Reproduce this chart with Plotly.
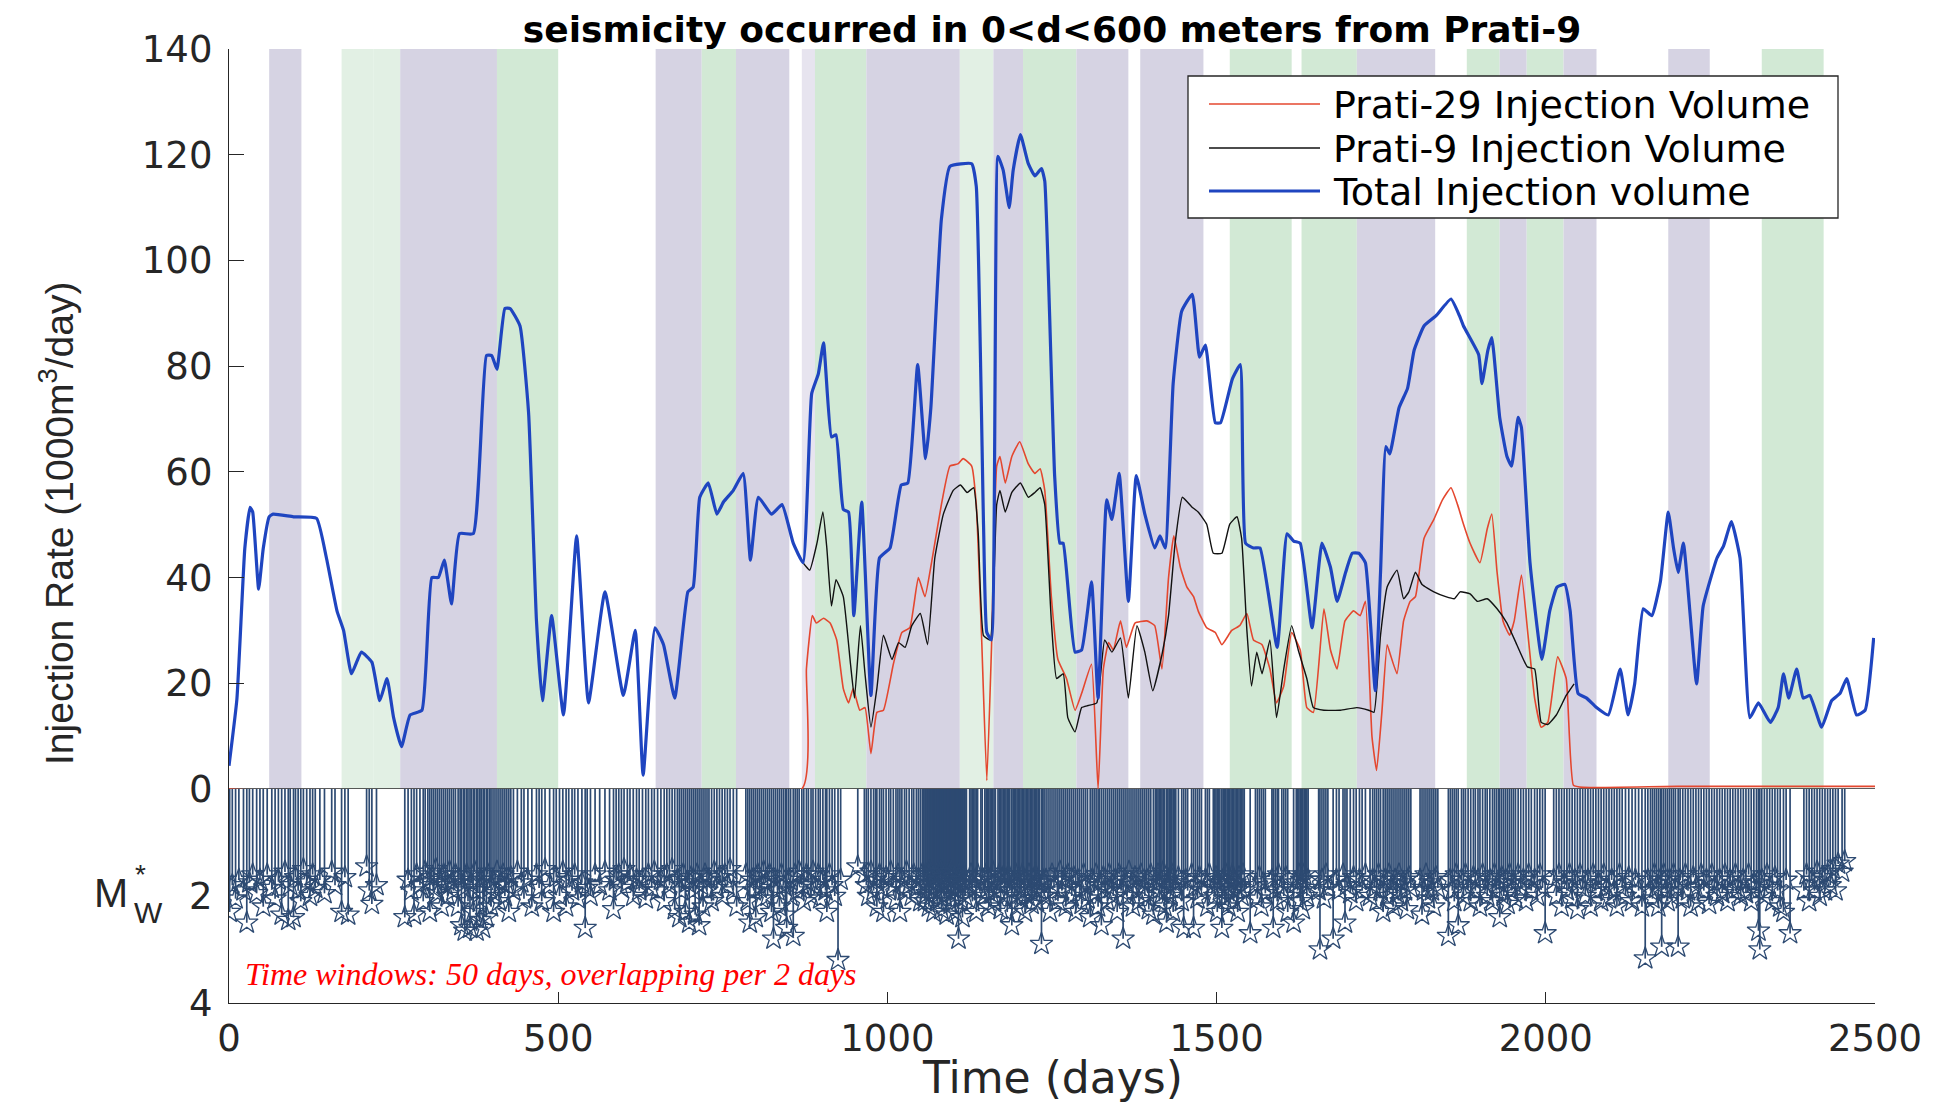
import plotly.graph_objects as go

# ---------------- Injection volume series (day, 1000 m3/day) ----------------
total_pts = [
    (0, 4.4), (12, 17), (24, 45.5), (32, 53.3), (36, 52.4), (45, 37.8), (52, 45.5), (61, 51.5),
    (67, 52), (98, 51.5), (133, 51.2), (148, 43.7), (164, 33.7), (174, 30), (186, 21.8),
    (201, 25.9), (217, 24), (229, 16.7), (240, 20.9), (250, 13.5), (262, 8), (275, 14),
    (293, 14.9), (308, 40), (318, 40), (327, 43.3), (338, 35), (350, 48.3), (371, 48.3),
    (391, 82), (399, 82), (407, 79.4), (419, 90.9), (427, 90.9), (442, 87.6), (455, 71.2),
    (467, 31.8), (476, 16.7), (490, 32.8), (508, 14), (528, 47.9), (546, 16.3), (571, 37.3),
    (599, 17.7), (617, 30), (629, 2.6), (647, 30.5), (660, 27.3), (677, 17.2), (697, 37.3),
    (705, 38.2), (715, 55.2), (728, 57.9), (741, 52), (751, 54.3), (766, 56.5), (781, 59.7),
    (792, 43.3), (804, 55.2), (824, 52), (840, 53.8), (857, 46.5), (872, 42.8), (885, 74.8),
    (895, 78.5), (903, 84.4), (915, 66.6), (922, 67), (933, 52.9), (941, 52.4), (949, 32.8),
    (961, 54.3), (975, 17.7), (988, 43.7), (1004, 45.6), (1021, 57.5), (1031, 57.9),
    (1046, 80.3), (1058, 62.5), (1066, 72.1), (1082, 107.8), (1095, 117.8), (1128, 118.3),
    (1135, 114), (1146, 50), (1151, 29.6), (1158, 28.2), (1168, 119.7), (1176, 117),
    (1185, 110), (1191, 117), (1202, 123.8), (1214, 118.3), (1224, 116), (1234, 117.4),
    (1239, 115), (1254, 59.3), (1262, 46.5), (1267, 46.5), (1285, 25.9), (1295, 26.3),
    (1310, 39.2), (1320, 17.2), (1333, 54.7), (1341, 51), (1352, 59.7), (1366, 35.5),
    (1378, 59.3), (1391, 52), (1406, 45.6), (1414, 47.9), (1422, 45.6), (1434, 76.7),
    (1447, 90.4), (1463, 93.6), (1474, 81.7), (1483, 84), (1498, 69.3), (1506, 69.3),
    (1524, 77.6), (1536, 80.3), (1544, 46.5), (1556, 45.6), (1566, 45.6), (1592, 26.8),
    (1607, 48.3), (1617, 46.9), (1627, 46.5), (1645, 30.5), (1660, 46.5), (1673, 41.9),
    (1683, 35.5), (1696, 41), (1706, 44.6), (1716, 44.6), (1726, 42.8), (1741, 18.6),
    (1749, 41), (1757, 64.8), (1763, 63.4), (1777, 72.1), (1790, 75.8), (1800, 83),
    (1815, 87.6), (1833, 89.5), (1856, 92.7), (1869, 89.5), (1875, 87.6), (1898, 82.2),
    (1903, 76.7), (1912, 83), (1918, 85.4), (1930, 70.3), (1941, 62.9), (1948, 61.1),
    (1958, 70.3), (1963, 68.4), (1976, 42.8), (1994, 24.5), (2006, 33.7), (2017, 38.2),
    (2029, 38.7), (2037, 33.7), (2049, 18.1), (2062, 17.2), (2077, 15.4), (2095, 14),
    (2113, 22.7), (2125, 14), (2135, 19.9), (2148, 34.1), (2161, 32.8), (2174, 39.2),
    (2186, 52.4), (2194, 45.6), (2201, 41), (2209, 46.5), (2229, 19.9), (2239, 34.6),
    (2260, 43.7), (2270, 46), (2282, 50.6), (2295, 43.7), (2310, 13.5), (2323, 16.3),
    (2341, 12.6), (2353, 15.4), (2361, 21.8), (2369, 17.2), (2381, 22.7), (2391, 17.2),
    (2401, 17.7), (2419, 11.7), (2434, 16.7), (2447, 18.1), (2457, 20.9), (2472, 14),
    (2485, 14.9), (2498, 28.6),
]

prati29_pts = [
    (0, 0), (870, 0), (877, 22.7), (886, 32.8), (892, 31.4), (903, 32.3), (913, 31.4),
    (923, 28.2), (933, 19), (941, 16.3), (948, 19), (958, 14.9), (966, 15.4), (975, 6.7),
    (984, 14.5), (994, 14.9), (1009, 23.6), (1022, 29.6), (1034, 30.5), (1047, 40),
    (1057, 36.4), (1067, 42.8), (1082, 53.8), (1095, 61.1), (1107, 61.5), (1115, 62.5),
    (1128, 61.1), (1135, 53.8), (1143, 29), (1151, 1.6), (1158, 26.3), (1166, 61.1),
    (1171, 62.9), (1179, 57.9), (1189, 62.9), (1201, 65.7), (1214, 61.5), (1224, 59.7),
    (1232, 60.6), (1239, 56.5), (1249, 36.4), (1259, 24.5), (1272, 20.9), (1285, 14.9),
    (1295, 18.1), (1310, 23.6), (1320, 0), (1328, 22.7), (1336, 27.7), (1343, 26.3),
    (1354, 31.8), (1363, 26.8), (1376, 31.4), (1394, 31.8), (1406, 30.9), (1417, 22.7),
    (1427, 40), (1435, 47.9), (1445, 41.9), (1455, 38.2), (1465, 36.4), (1472, 33.7),
    (1485, 30.5), (1498, 29.6), (1508, 27.3), (1523, 30), (1535, 30.9), (1546, 33.2),
    (1556, 28.2), (1569, 27.3), (1581, 22.7), (1591, 16.3), (1602, 19.5), (1614, 29.6),
    (1627, 26.3), (1637, 15.4), (1647, 14.5), (1663, 34.1), (1673, 26.3), (1683, 22.7),
    (1695, 31.8), (1708, 33.7), (1718, 32.8), (1726, 35.5), (1736, 9.9), (1743, 3.5),
    (1751, 14.5), (1759, 27.3), (1764, 25.4), (1774, 21.8), (1784, 31.8), (1794, 35.5),
    (1802, 36.4), (1815, 47.4), (1830, 51), (1843, 54.7), (1856, 57), (1866, 53.8),
    (1875, 50.1), (1885, 46.5), (1900, 42.8), (1911, 49.2), (1918, 52), (1926, 41),
    (1935, 31.8), (1945, 29.1), (1952, 31.8), (1963, 40.5), (1973, 29.1), (1983, 17.2),
    (1993, 11.7), (2003, 12.6), (2018, 25), (2031, 20.9), (2042, 0.7), (2057, 0.3),
    (2200, 0.5), (2500, 0.5),
]

prati9_pts = [
    (857, 46.5), (872, 42.8), (882, 41.4), (893, 46.5), (902, 52.4), (908, 45.6), (915, 34.6),
    (922, 39.6), (933, 36.4), (944, 23.6), (950, 17.2), (959, 30.9), (966, 21.8), (975, 11.7),
    (984, 19), (994, 29.1), (1007, 24.5), (1017, 27.7), (1027, 26.8), (1037, 30.9),
    (1050, 33.2), (1061, 27.3), (1072, 43.7), (1085, 52), (1100, 56.5), (1111, 57.5),
    (1121, 56.1), (1131, 57), (1138, 48.3), (1146, 29), (1156, 28.2), (1166, 53.8),
    (1171, 56.5), (1179, 52.4), (1189, 56.1), (1202, 57.9), (1214, 55.2), (1224, 56.1),
    (1232, 57), (1239, 53.8), (1249, 31.8), (1257, 20.9), (1267, 21.8), (1274, 13.5),
    (1285, 10.8), (1295, 15.4), (1305, 15.8), (1318, 16.3), (1330, 28.2), (1341, 25.9),
    (1354, 28.6), (1366, 17.2), (1379, 30.9), (1391, 25.9), (1403, 18.6), (1417, 25.4),
    (1427, 32.8), (1437, 46.5), (1448, 55.2), (1462, 53.4), (1472, 52.4), (1485, 50.1),
    (1495, 44.6), (1508, 44.6), (1520, 50.1), (1531, 51.5), (1538, 47.4), (1546, 30),
    (1553, 19.5), (1561, 25.9), (1569, 21.8), (1581, 28.2), (1591, 13.5), (1602, 22.7),
    (1614, 30.9), (1624, 26.3), (1637, 20.9), (1647, 15.4), (1663, 14.9), (1688, 14.9),
    (1713, 15.4), (1731, 14.9), (1739, 14.5), (1749, 29.1), (1759, 38.2), (1774, 41.4),
    (1784, 36), (1792, 37.3), (1802, 41), (1812, 38.7), (1830, 37.3), (1848, 36.4),
    (1861, 36), (1870, 37.3), (1885, 36.9), (1896, 35.5), (1911, 36), (1926, 34.1),
    (1941, 31.4), (1956, 27.3), (1972, 23.1), (1983, 22.7), (1993, 12.6), (2003, 12.2),
    (2016, 14), (2031, 17.7), (2043, 19.9),
]

# ---------------- Seismic events (day, Mw*) ----------------
events_a = [
    (1, 2.3), (5, 1.8), (10, 2.05), (15, 1.7), (22, 1.9), (27, 2.5), (31, 1.75), (36, 1.6),
    (42, 1.95), (47, 1.7), (52, 2.2), (58, 1.6), (65, 1.85), (70, 2.05), (75, 1.7), (80, 2.35),
    (85, 1.55), (90, 2.45), (93, 1.8), (98, 2.4), (101, 1.65), (105, 1.9), (109, 2.1),
    (113, 1.5), (118, 1.75), (123, 2.0), (127, 1.6), (131, 1.85), (138, 1.7), (145, 1.95),
    (156, 1.55), (161, 1.8), (171, 2.3), (176, 1.65), (181, 2.35), (209, 1.45), (213, 1.9),
    (217, 2.15), (224, 1.8),
]
events_b = [
    (267, 2.4), (272, 1.7), (277, 1.9), (281, 2.35), (285, 1.6), (290, 1.8), (295, 2.1),
    (298, 1.55), (302, 1.75), (305, 2.3), (308, 1.65), (311, 1.85), (314, 1.5), (317, 1.95),
    (320, 1.7), (323, 2.2), (326, 1.6), (329, 1.8), (332, 2.0), (335, 1.55), (338, 1.75),
    (341, 1.9), (344, 1.6), (348, 2.2), (351, 1.7), (353, 2.55), (356, 1.85), (358, 2.65),
    (361, 1.6), (363, 2.1), (366, 2.6), (368, 1.75), (371, 2.3), (373, 1.55), (376, 2.65),
    (378, 1.9), (381, 2.45), (383, 1.7), (386, 2.6), (388, 2.0), (391, 2.4), (393, 1.6),
    (396, 1.85), (398, 2.2), (401, 1.7), (404, 1.95), (407, 1.55), (410, 2.1), (413, 1.75),
    (416, 1.6), (419, 2.0), (422, 1.8), (425, 2.3), (428, 1.65), (432, 1.9), (438, 1.55),
    (444, 1.75), (448, 2.05), (454, 1.7), (460, 2.2), (467, 1.6), (471, 1.85), (475, 2.1),
    (480, 1.5), (487, 1.8), (493, 2.3), (497, 1.65), (502, 2.0), (507, 1.55), (512, 2.2),
    (516, 1.7), (521, 1.9), (525, 1.6), (530, 2.05), (536, 1.75), (541, 2.6), (544, 1.85),
    (549, 2.0), (556, 1.6), (563, 1.8), (571, 1.55), (578, 1.9), (584, 2.25), (588, 1.7),
    (592, 1.6), (596, 1.85), (600, 1.5), (605, 1.75), (609, 1.6), (614, 2.0), (619, 1.7),
    (623, 1.9),
]
events_c = [
    (628, 1.7), (633, 2.05), (637, 1.6), (642, 1.85), (646, 1.55), (651, 1.9), (656, 1.7),
    (661, 2.1), (665, 1.6), (669, 1.8), (673, 1.5), (677, 2.25), (681, 1.7), (684, 2.4),
    (687, 1.9), (690, 1.6), (693, 2.3), (696, 1.75), (699, 2.5), (702, 1.65), (705, 1.9),
    (708, 2.35), (711, 1.6), (714, 2.55), (717, 1.8), (720, 2.2), (723, 1.6), (726, 1.9),
    (729, 1.7), (733, 2.1), (737, 1.55), (741, 1.85), (745, 1.65), (749, 2.0), (753, 1.6),
    (757, 1.8), (761, 1.5), (766, 1.9), (771, 2.2),
    (785, 1.6), (788, 2.1), (791, 2.5), (794, 1.7), (797, 1.9), (800, 2.4), (803, 1.6),
    (806, 1.85), (809, 2.05), (812, 1.55), (815, 1.75), (818, 2.0), (821, 1.6), (824, 2.3),
    (827, 2.8), (830, 1.7), (833, 1.9), (836, 2.2), (839, 1.6), (842, 1.8), (845, 2.35),
    (847, 2.6), (850, 1.7), (853, 2.0), (857, 2.75), (860, 1.6), (863, 1.9), (866, 1.55),
    (870, 1.8), (873, 2.1), (877, 1.6), (880, 1.75), (884, 2.0), (887, 1.55), (891, 1.85),
    (895, 1.6), (898, 2.05), (902, 1.7), (906, 1.9), (908, 2.3), (912, 1.6), (916, 1.8),
    (920, 2.0), (925, 3.2), (929, 1.7), (955, 1.45),
    (965, 1.6), (968, 1.8), (971, 2.0), (975, 1.55), (979, 1.9), (982, 1.7), (984, 2.2),
    (988, 1.6), (991, 1.85), (994, 2.3), (998, 1.65), (1002, 1.9), (1005, 1.55), (1009, 1.8),
    (1013, 2.05), (1016, 1.6), (1019, 2.3), (1022, 1.7), (1026, 1.9), (1029, 1.55),
    (1033, 1.8), (1037, 2.0), (1040, 1.6), (1044, 1.85), (1047, 1.7), (1050, 2.1), (1053, 1.6),
]
events_d = [
    (1055, 1.8), (1057, 2.1), (1058, 1.6), (1060, 1.95), (1061, 1.7), (1063, 2.2), (1064, 1.55),
    (1066, 1.85), (1067, 2.0), (1069, 1.65), (1070, 2.3), (1072, 1.75), (1073, 1.9), (1075, 1.6),
    (1076, 2.1), (1078, 1.7), (1079, 1.95), (1081, 1.55), (1082, 2.25), (1084, 1.8), (1085, 1.65),
    (1087, 2.0), (1088, 1.75), (1090, 2.35), (1091, 1.6), (1093, 1.9), (1094, 1.7), (1096, 2.15),
    (1097, 1.55), (1099, 1.85), (1100, 2.0), (1102, 1.65), (1103, 2.3), (1105, 1.75), (1106, 1.9),
    (1108, 2.8), (1109, 1.6), (1111, 2.05), (1112, 1.7), (1114, 2.4), (1115, 1.8), (1117, 1.6),
    (1118, 2.0), (1120, 1.75),
    (1125, 1.9), (1127, 1.6), (1129, 2.1), (1131, 1.7), (1133, 1.85), (1135, 2.3), (1137, 1.6),
    (1142, 1.9), (1144, 1.7), (1148, 2.0), (1150, 1.6), (1152, 1.85), (1154, 2.2), (1156, 1.7),
    (1158, 1.95), (1160, 1.55), (1162, 2.1), (1164, 1.75), (1168, 1.9), (1170, 1.6), (1172, 2.25),
    (1174, 1.8), (1176, 1.65), (1178, 2.0), (1180, 1.7), (1182, 2.3), (1184, 1.6), (1186, 1.9),
    (1189, 2.55), (1191, 1.75), (1193, 2.0), (1195, 1.6), (1197, 2.2), (1199, 1.7), (1201, 1.85),
    (1203, 2.05), (1205, 1.6), (1207, 1.9), (1209, 2.3), (1211, 1.7), (1213, 2.0), (1215, 1.6),
    (1217, 1.85), (1219, 2.15), (1221, 1.7), (1223, 1.95), (1225, 1.6), (1227, 2.1), (1229, 1.75),
    (1231, 1.9), (1234, 2.9), (1236, 1.7), (1238, 2.0),
]
events_e = [
    (1241, 1.7), (1244, 2.0), (1247, 2.3), (1250, 1.6), (1253, 1.85), (1256, 1.7), (1259, 2.1),
    (1262, 1.55), (1265, 1.9), (1268, 1.7), (1271, 2.2), (1274, 1.6), (1277, 1.85), (1280, 2.0),
    (1283, 1.65), (1286, 2.3), (1289, 1.7), (1292, 1.9), (1295, 2.15), (1298, 1.6), (1301, 1.8),
    (1304, 2.05), (1308, 2.4), (1311, 1.7), (1314, 1.95), (1317, 1.6), (1320, 2.2), (1322, 1.75),
    (1325, 2.55), (1328, 1.65), (1331, 1.9), (1334, 2.1), (1337, 1.6), (1340, 1.85), (1343, 2.0),
    (1346, 1.7), (1349, 2.3), (1352, 1.6), (1355, 1.9), (1358, 2.8), (1361, 1.7), (1364, 2.0),
    (1367, 1.55), (1370, 1.8), (1373, 2.2), (1376, 1.65), (1379, 1.9), (1382, 2.1), (1385, 1.6),
    (1388, 1.85), (1391, 2.0), (1394, 1.7), (1397, 2.25), (1400, 1.6), (1404, 2.35), (1407, 1.75),
    (1409, 1.9), (1411, 1.6), (1413, 2.1), (1415, 1.7), (1417, 1.95), (1419, 1.55), (1421, 2.2),
    (1424, 2.5), (1426, 1.7), (1428, 1.85), (1430, 2.0), (1432, 1.6), (1434, 2.3), (1436, 1.75),
    (1438, 1.9), (1442, 1.65), (1447, 2.1), (1450, 2.6), (1453, 1.7), (1456, 1.9), (1462, 1.6),
    (1465, 2.6), (1468, 1.8), (1471, 2.05), (1474, 1.65), (1477, 1.9), (1483, 1.7), (1486, 2.2),
    (1489, 1.6), (1495, 1.85), (1497, 2.0), (1499, 1.65), (1501, 2.3), (1503, 1.75), (1505, 1.9),
    (1508, 2.6), (1510, 1.7), (1512, 2.05), (1514, 1.6), (1516, 1.85), (1518, 2.2), (1520, 1.7),
    (1522, 1.95), (1524, 1.6), (1526, 2.1), (1528, 1.75), (1530, 1.9), (1532, 2.3), (1534, 1.65),
    (1536, 1.85), (1538, 2.0), (1540, 1.6), (1542, 1.9),
]
events_f = [
    (1551, 2.7), (1559, 1.8), (1562, 2.05), (1565, 1.65), (1568, 2.2), (1571, 1.75), (1574, 1.95),
    (1584, 1.7), (1586, 2.6), (1589, 1.9), (1592, 2.1), (1594, 1.6), (1599, 1.85), (1602, 2.0),
    (1605, 1.65), (1608, 2.3), (1617, 2.5), (1621, 1.75), (1623, 1.9), (1625, 1.6), (1627, 2.1),
    (1629, 1.7), (1631, 2.25), (1633, 1.6), (1635, 1.85), (1637, 2.0), (1639, 1.7), (1655, 1.9),
    (1657, 3.0), (1660, 1.7), (1663, 2.05), (1666, 1.6), (1669, 1.85), (1677, 2.8), (1682, 1.7),
    (1686, 1.9), (1692, 1.6), (1695, 2.5), (1698, 1.8), (1703, 1.95), (1708, 1.65), (1712, 2.1),
    (1717, 1.7), (1721, 1.9), (1726, 1.6), (1733, 2.0), (1737, 1.7), (1740, 1.85), (1743, 2.1),
    (1746, 1.6), (1749, 1.9), (1753, 2.3), (1756, 1.7), (1759, 2.0), (1762, 1.6), (1765, 1.85),
    (1768, 2.2), (1771, 1.7), (1774, 1.95), (1777, 1.6), (1780, 2.1), (1783, 1.75), (1786, 1.9),
    (1789, 2.25), (1792, 1.65), (1795, 1.85), (1809, 1.7), (1812, 2.35), (1815, 1.9), (1818, 1.6),
    (1821, 2.05), (1824, 1.75), (1827, 1.9), (1830, 2.2), (1833, 1.65), (1836, 1.85), (1852, 2.75),
    (1855, 1.7), (1858, 1.9), (1861, 2.1), (1864, 1.6), (1867, 2.55),
]
events_g = [
    (1872, 1.7), (1875, 2.0), (1878, 1.6), (1882, 1.85), (1886, 2.1), (1890, 1.65), (1893, 1.9),
    (1897, 1.7), (1900, 2.2), (1904, 1.6), (1908, 1.85), (1911, 2.0), (1915, 1.7), (1919, 2.1),
    (1922, 1.6), (1925, 1.9), (1928, 1.75), (1930, 2.4), (1933, 1.65), (1936, 2.0), (1939, 1.7),
    (1942, 2.15), (1945, 1.6), (1948, 1.9), (1951, 1.75), (1954, 2.05), (1958, 1.6), (1962, 1.85),
    (1966, 1.7), (1970, 2.1), (1974, 1.6), (1978, 1.9), (1983, 1.7), (1987, 2.0), (1991, 1.6),
    (1995, 1.85), (1999, 2.7), (2012, 1.7), (2016, 2.0), (2020, 1.6), (2024, 2.2), (2028, 1.75),
    (2032, 1.9), (2036, 1.6), (2040, 2.05), (2044, 1.7), (2048, 2.25), (2052, 1.6), (2056, 1.85),
    (2060, 2.0), (2064, 1.7), (2068, 2.2), (2072, 1.6), (2076, 1.9), (2080, 1.75), (2084, 2.1),
    (2088, 1.6), (2092, 1.85), (2096, 2.05), (2100, 1.7), (2104, 1.9), (2108, 2.2), (2112, 1.6),
    (2116, 1.85), (2121, 2.0), (2126, 1.65), (2131, 2.1), (2136, 1.7), (2141, 1.9), (2146, 2.2),
    (2151, 3.17), (2155, 1.7), (2159, 1.9), (2162, 2.05), (2165, 1.6), (2168, 1.85), (2171, 2.2),
    (2174, 1.7), (2176, 2.95), (2179, 1.6), (2182, 1.9), (2185, 2.1), (2188, 1.7), (2191, 2.0),
    (2194, 1.6), (2197, 1.85), (2201, 2.95), (2204, 1.7), (2208, 2.05), (2212, 1.6), (2216, 1.9),
    (2220, 2.2), (2224, 1.65), (2228, 1.85), (2232, 2.1), (2236, 1.6), (2240, 1.9), (2244, 1.7),
    (2248, 2.15), (2252, 1.6), (2256, 1.85), (2260, 2.0), (2264, 1.7), (2268, 1.95), (2272, 1.6),
    (2276, 2.1), (2280, 1.7), (2284, 1.9), (2288, 1.6), (2292, 1.85), (2296, 2.0), (2300, 1.7),
    (2304, 1.95), (2308, 1.6), (2312, 2.1), (2316, 1.75), (2320, 1.9), (2323, 2.65), (2325, 3.0),
    (2328, 1.7), (2332, 2.0), (2336, 1.6), (2340, 1.85), (2344, 2.1), (2348, 1.65), (2352, 1.9),
    (2356, 2.2), (2361, 2.3), (2365, 1.7), (2371, 2.7), (2392, 1.9), (2396, 1.6), (2400, 2.1),
    (2404, 1.7), (2408, 1.9), (2412, 1.55), (2416, 2.0), (2420, 1.65), (2424, 1.9), (2428, 1.6),
    (2432, 1.8), (2436, 1.5), (2440, 1.9), (2444, 1.4), (2450, 1.55), (2454, 1.35),
]

# ---------------- Shaded time windows (start day, end day, kind) ----------------
band_windows = [
    (61, 110, "purple"), (171, 219, "lightgreen"), (219, 260, "lightgreen"), (260, 407, "purple"),
    (407, 500, "green"), (648, 718, "purple"), (718, 770, "green"), (770, 851, "purple"),
    (870, 890, "lightpurple"), (890, 968, "green"), (968, 1110, "purple"),
    (1110, 1161, "lightgreen"), (1161, 1206, "purple"), (1206, 1287, "green"),
    (1287, 1366, "purple"), (1384, 1480, "purple"), (1520, 1614, "green"), (1629, 1713, "green"),
    (1713, 1832, "purple"), (1880, 1930, "green"), (1930, 1971, "purple"), (1971, 2027, "green"),
    (2027, 2077, "purple"), (2186, 2249, "purple"), (2328, 2422, "green"),
]
band_colors = {"purple": "#d6d3e3", "green": "#d2e9d5", "lightgreen": "#e2f0e4",
               "lightpurple": "#e7e4ef"}

x_ticks = [0, 500, 1000, 1500, 2000, 2500]
rate_ticks = [0, 20, 40, 60, 80, 100, 120, 140]
mw_ticks = [2, 4]

legend_names = ["Prati-29 Injection Volume", "Prati-9 Injection Volume", "Total Injection volume"]
line_colors = ["#e4472f", "#111111", "#1f45c0"]
line_widths = [1.6, 1.4, 3.2]

# ---------------- build figure ----------------
def unzip(pts):
    return [p[0] for p in pts], [p[1] for p in pts]

events = events_a + events_b + events_c + events_d + events_e + events_f + events_g
ev_day, ev_mw = unzip(events)

stem_x, stem_y = [], []
for d, m in events:
    stem_x += [d, d, None]
    stem_y += [0, m, None]

AX = "#262626"
STEM = "#2d4a72"
# page is offset by the 8px body margin of the html page
PAGE_OFF = 8
FIG_W, FIG_H = 1934 - PAGE_OFF, 1104 - PAGE_OFF
# plot area in page pixels
PL, PR, PT, PB = 229, 1875, 49, 1003


def px(xp):
    return (xp - PL) / (PR - PL)


def py(yp):
    return (PB - yp) / (PB - PT)


fig = go.Figure()

shapes = []
for s, e, k in band_windows:
    shapes.append(dict(type="rect", xref="x", yref="y", x0=s, x1=e, y0=0, y1=140,
                       fillcolor=band_colors[k], line=dict(width=0), layer="below"))
shapes.append(dict(type="line", xref="x", yref="y", x0=0, x1=2500, y0=0, y1=0,
                   line=dict(color=AX, width=1.3), layer="below"))

fig.add_trace(go.Scatter(x=stem_x, y=stem_y, mode="lines", xaxis="x", yaxis="y2",
                         line=dict(color=STEM, width=1.7), showlegend=False, hoverinfo="skip"))
fig.add_trace(go.Scatter(x=ev_day, y=ev_mw, mode="markers", xaxis="x", yaxis="y2",
                         marker=dict(symbol="star-open", size=17, color=STEM,
                                     line=dict(color=STEM, width=1.3)),
                         showlegend=False))

for pts, name, col, w in zip([prati29_pts, prati9_pts, total_pts], legend_names,
                             line_colors, line_widths):
    xs, ys = unzip(pts)
    fig.add_trace(go.Scatter(x=xs, y=ys, mode="lines", name=name, showlegend=False,
                             line=dict(color=col, width=w, shape="spline", smoothing=0.4)))

# legend drawn as a boxed key
LB_L, LB_R, LB_T, LB_B = 1188, 1838, 76, 218
shapes.append(dict(type="rect", xref="paper", yref="paper", x0=px(LB_L), x1=px(LB_R),
                   y0=py(LB_B), y1=py(LB_T), fillcolor="white",
                   line=dict(color=AX, width=1.3), layer="above"))
row_y = [104, 148, 191]
ann = []
for ry_, name, col, w in zip(row_y, legend_names, line_colors, line_widths):
    shapes.append(dict(type="line", xref="paper", yref="paper", x0=px(1209), x1=px(1320),
                       y0=py(ry_), y1=py(ry_), line=dict(color=col, width=w), layer="above"))
    ann.append(dict(text=name, x=px(1331), y=py(ry_ + 1), xref="paper", yref="paper",
                    showarrow=False, xanchor="left", yanchor="middle",
                    font=dict(family="DejaVu Sans", size=38, color="#000000")))

tick_font = dict(family="DejaVu Sans", size=37, color=AX)
fig.update_layout(
    width=FIG_W, height=FIG_H,
    margin=dict(l=PL - PAGE_OFF, r=FIG_W - (PR - PAGE_OFF), t=PT - PAGE_OFF,
                b=FIG_H - (PB - PAGE_OFF), autoexpand=False),
    paper_bgcolor="white", plot_bgcolor="white",
    showlegend=False,
    shapes=shapes,
    title=dict(text="<b>seismicity occurred in 0<d<600 meters from Prati-9</b>",
               font=dict(family="DejaVu Sans", size=36, color="#000000"),
               x=0.5, xref="paper", xanchor="center", y=1 - (29 - PAGE_OFF) / FIG_H,
               yref="container", yanchor="middle", automargin=False),
    xaxis=dict(domain=[0, 1], anchor="y2", range=[0, 2500], tickvals=x_ticks,
               ticks="inside", ticklen=11, tickcolor=AX, tickwidth=1.3,
               showline=True, linecolor=AX, linewidth=1.3, showgrid=False, zeroline=False,
               tickfont=tick_font, ticklabelstandoff=2, automargin=False),
    yaxis=dict(domain=[214 / 954, 1], anchor="x", range=[0, 140], tickvals=rate_ticks,
               ticks="inside", ticklen=15, tickcolor=AX, tickwidth=1.3,
               showline=True, linecolor=AX, linewidth=1.3, showgrid=False, zeroline=False,
               tickfont=tick_font, ticklabelstandoff=8, automargin=False),
    yaxis2=dict(domain=[0, 214 / 954], anchor="x", range=[4, 0], tickvals=mw_ticks,
                ticks="", showline=True, linecolor=AX, linewidth=1.3, showgrid=False,
                zeroline=False, tickfont=tick_font, ticklabelstandoff=8, automargin=False),
)

ann += [
    dict(text="Injection Rate (1000m<sup>3</sup>/day)", x=px(56), y=py(524),
         xref="paper", yref="paper", textangle=-90, showarrow=False,
         xanchor="center", yanchor="middle",
         font=dict(family="Liberation Sans, Arial", size=39, color=AX)),
    dict(text="Time (days)", x=0.5, y=py(1077), xref="paper", yref="paper",
         showarrow=False, xanchor="center", yanchor="middle",
         font=dict(family="DejaVu Sans", size=44, color=AX)),
    dict(text="M", x=px(111), y=py(893), xref="paper", yref="paper",
         showarrow=False, xanchor="center", yanchor="middle",
         font=dict(family="Liberation Sans, Arial", size=41, color=AX)),
    dict(text="*", x=px(140), y=py(874), xref="paper", yref="paper",
         showarrow=False, xanchor="center", yanchor="middle",
         font=dict(family="Liberation Sans, Arial", size=28, color=AX)),
    dict(text="W", x=px(148), y=py(912), xref="paper", yref="paper",
         showarrow=False, xanchor="center", yanchor="middle",
         font=dict(family="Liberation Sans, Arial", size=30, color=AX)),
    dict(text="<i>Time windows: 50 days, overlapping per 2 days</i>", x=px(243),
         y=py(974), xref="paper", yref="paper", showarrow=False,
         xanchor="left", yanchor="middle",
         font=dict(family="Liberation Serif", size=32, color="#ff0000")),
]
fig.update_layout(annotations=ann)

fig.write_html("out.html")
